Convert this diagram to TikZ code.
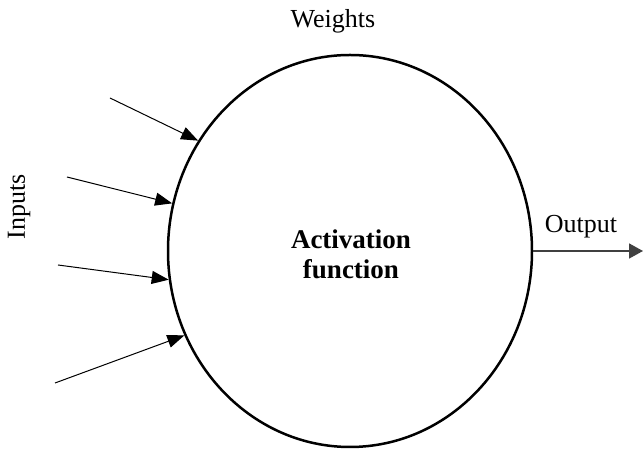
\documentclass[tikz,border=0pt]{standalone}
\usepackage{fontspec}
\setmainfont{Liberation Serif}
\usetikzlibrary{arrows.meta,shapes.geometric}
\tikzset{
    input arrow/.style = {-{Triangle[length = 8.5pt, width = 6.5pt]}, line width = 0.5pt},
    output arrow/.style = {-{Triangle[length = 7pt, width = 7.5pt]}, line width = 0.8pt, black!75}
}
\begin{document}
\begin{tikzpicture}[x = 0.5pt, y = 0.5pt, font = \fontsize{13}{15}\selectfont]
    \useasboundingbox (0,0) rectangle (643,449);
    \node[draw, ellipse, line width = 1.25pt, minimum width = 182pt, minimum height = 196pt, inner sep = 0] (neuron) at (350,198) {};
    \node[font = \fontsize{13.5}{15}\selectfont\bfseries, align = center] (act) at (351,195) {Activation\\function};
    \coordinate (in1) at (110,351);
    \coordinate (in2) at (67,272);
    \coordinate (in3) at (58,184);
    \coordinate (in4) at (55,66);
    \coordinate (out) at (643,198);
    \draw[input arrow] (in1) -- (neuron.144);
    \draw[input arrow] (in2) -- (neuron.165.4);
    \draw[input arrow] (in3) -- (neuron.189);
    \draw[input arrow] (in4) -- (neuron.207.8);
    \draw[output arrow] (neuron.east) -- (out);
    \node[anchor = base] (weights) at (333,421) {Weights};
    \node[anchor = base] (output) at (581,216) {Output};
    \node[anchor = base, rotate = 90] (inputs) at (25,242) {Inputs};
\end{tikzpicture}
\end{document}
